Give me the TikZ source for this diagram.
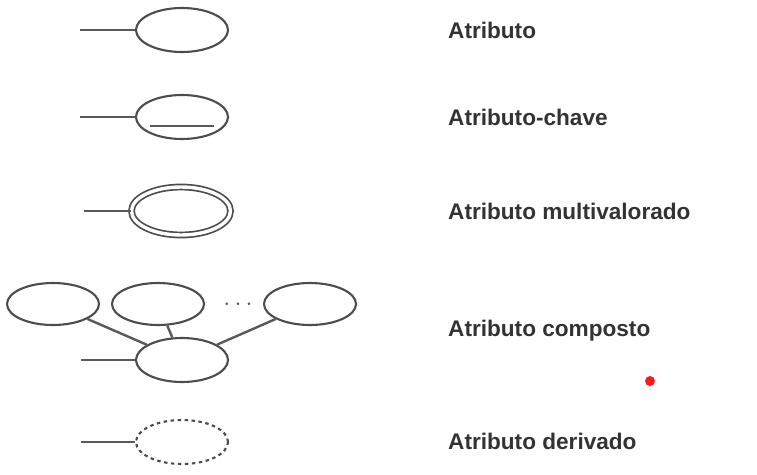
\documentclass[tikz,border=0pt]{standalone}
\usepackage{fontspec}
\setmainfont{Liberation Sans}
\usetikzlibrary{shapes.geometric}

\begin{document}
\begin{tikzpicture}[x=1pt, y=-1pt,
    attr/.style={ellipse, draw=black!70, line width=2.1pt, minimum width=92pt, minimum height=44pt, inner sep=0pt},
    link/.style={draw=black!65, line width=2.4pt},
    label/.style={anchor=west, inner sep=0pt, text=black!80, font=\fontsize{22.6}{26}\selectfont\bfseries}]
    \useasboundingbox (0,0) rectangle (757,474);

    % simples
    \node[attr] (a) at (182,30) {};
    \coordinate (a0) at (80,30);
    \draw[link] (a0) -- (a);
    \node[label] (la) at (448,30) {Atributo};

    % chave
    \node[attr] (k) at (182,117) {};
    \coordinate (k0) at (80,117);
    \draw[link] (k0) -- (k);
    \draw[link] ([shift={(-32,9)}]k.center) -- ([shift={(32,9)}]k.center);
    \node[label] (lk) at (448,117) {Atributo-chave};

    % multivalorado
    \node[attr, minimum width=99pt, minimum height=48pt, line width=1.7pt, double, double distance=3.4pt] (m) at (181,211) {};
    \coordinate (m0) at (84,211);
    \draw[link] (m0) -- (m);
    \node[label] (lm) at (448,211) {Atributo multivalorado};

    % composto
    \node[attr, minimum height=42pt] (c1) at (53,304) {};
    \node[attr, minimum height=42pt] (c2) at (158,304) {};
    \node[attr, minimum height=42pt] (c3) at (310,304) {};
    \node[text=black!65, font=\fontsize{24}{24}\selectfont] (dots) at (238,305) {$\cdots$};
    \node[attr] (c) at (182,360) {};
    \coordinate (c0) at (81,360);
    \draw[link] (c0) -- (c);
    \draw[link] (c1) -- (c);
    \draw[link] (c2) -- (c);
    \draw[link] (c3) -- (c);
    \node[label] (lc) at (448,331) {Atributo composto};

    % derivado
    \node[attr, dash pattern=on 3.5pt off 3.5pt] (d) at (182,442) {};
    \coordinate (d0) at (81,442);
    \draw[link] (d0) -- (d);
    \node[label] (ld) at (448,441) {Atributo derivado};

    \fill[red!90] (650,381) circle (5);
\end{tikzpicture}
\end{document}
